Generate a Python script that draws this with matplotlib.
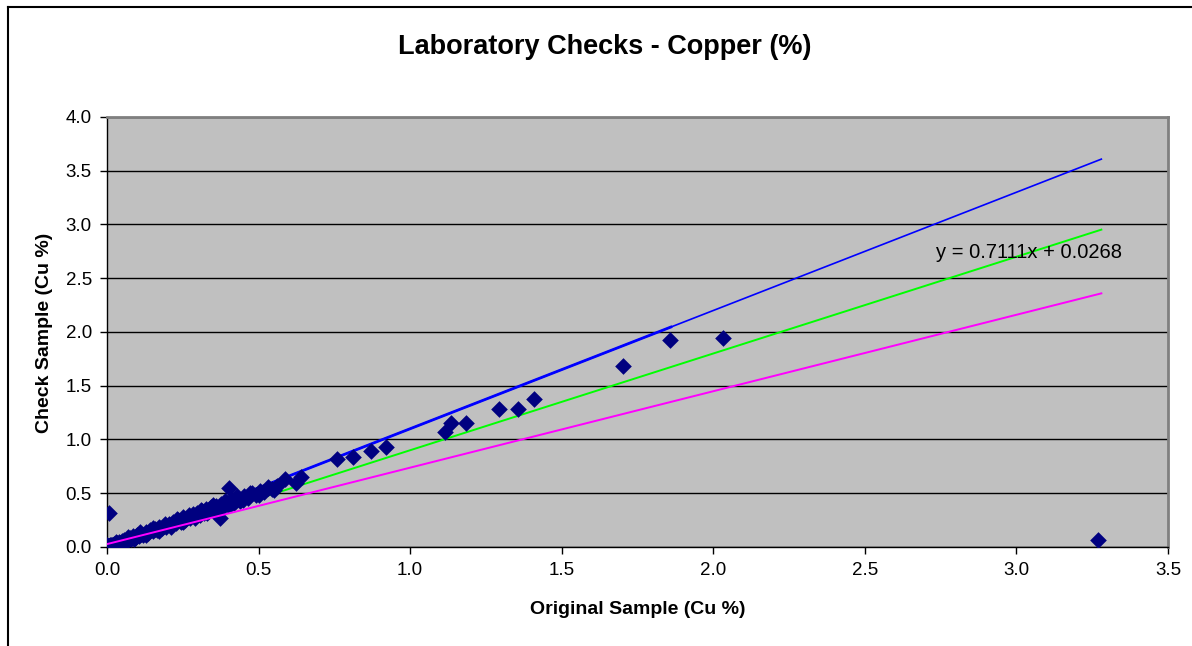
import matplotlib
matplotlib.use("Agg")
import matplotlib.pyplot as plt
from matplotlib.lines import Line2D

plt.rcParams['font.family'] = ['Liberation Sans', 'DejaVu Sans']

# Original vs check assays (Cu %)
original = [0.000, 0.002, 0.004, 0.005, 0.007, 0.008, 0.010, 0.012, 0.015, 0.018,
            0.020, 0.022, 0.025, 0.028, 0.030, 0.033, 0.036, 0.040, 0.044, 0.048,
            0.052, 0.056, 0.060, 0.065, 0.070, 0.075, 0.080, 0.086, 0.092, 0.098,
            0.105, 0.112, 0.120, 0.128, 0.135, 0.142, 0.150, 0.158, 0.165, 0.172,
            0.180, 0.188, 0.195, 0.203, 0.210, 0.218, 0.226, 0.235, 0.243, 0.250,
            0.258, 0.266, 0.275, 0.283, 0.290, 0.298, 0.305, 0.313, 0.320, 0.328,
            0.336, 0.344, 0.352, 0.360, 0.368, 0.376, 0.384, 0.392, 0.400, 0.410,
            0.420, 0.430, 0.440, 0.452, 0.465, 0.478, 0.492, 0.505, 0.518, 0.532,
            0.545, 0.560,
            0.010, 0.020, 0.030, 0.050, 0.070, 0.090, 0.110, 0.130, 0.150, 0.170,
            0.190, 0.210, 0.230, 0.250, 0.270, 0.290, 0.310, 0.330, 0.350, 0.370,
            0.390, 0.410, 0.430, 0.450, 0.470, 0.500, 0.530, 0.550, 0.005, 0.000,
            0.012,
            0.008, 0.402, 0.372, 3.27,
            0.588, 0.624, 0.639, 0.758, 0.810, 0.872, 0.920, 1.116, 1.134, 1.185,
            1.293, 1.355, 1.407, 1.703, 1.856, 2.033]
check = [0.000, 0.005, 0.002, 0.010, 0.004, 0.012, 0.008, 0.015, 0.011, 0.022,
         0.016, 0.028, 0.020, 0.032, 0.026, 0.040, 0.030, 0.046, 0.038, 0.055,
         0.045, 0.062, 0.055, 0.074, 0.064, 0.082, 0.075, 0.098, 0.088, 0.112,
         0.100, 0.122, 0.115, 0.140, 0.128, 0.155, 0.148, 0.170, 0.158, 0.185,
         0.176, 0.198, 0.190, 0.215, 0.200, 0.232, 0.222, 0.250, 0.236, 0.275,
         0.252, 0.282, 0.268, 0.305, 0.285, 0.318, 0.300, 0.330, 0.312, 0.352,
         0.330, 0.372, 0.345, 0.385, 0.362, 0.398, 0.375, 0.418, 0.392, 0.435,
         0.412, 0.452, 0.430, 0.478, 0.455, 0.500, 0.488, 0.525, 0.508, 0.548,
         0.540, 0.565,
         0.020, 0.005, 0.045, 0.035, 0.090, 0.075, 0.135, 0.115, 0.175, 0.150,
         0.215, 0.190, 0.262, 0.235, 0.300, 0.270, 0.345, 0.312, 0.388, 0.352,
         0.430, 0.400, 0.470, 0.440, 0.505, 0.485, 0.560, 0.530, 0.000, 0.015,
         0.000,
         0.313, 0.546, 0.267, 0.065,
         0.633, 0.598, 0.654, 0.822, 0.835, 0.896, 0.930, 1.070, 1.153, 1.153,
         1.284, 1.284, 1.380, 1.684, 1.923, 1.940]

# reference lines: +10%, -10% and linear trend
line_x = [0.0, 3.28]
upper_slope = 1.1
lower_slope = 0.9
trend_slope = 0.7111
trend_icpt = 0.0268
upper_dense_x = [0.0, 1.86]

fig = plt.figure(figsize=(11.92, 6.46), dpi=100)
ax = fig.add_axes([0.0898, 0.1533, 0.8901, 0.6656])
ax.set_facecolor('#C0C0C0')

ax.plot(line_x, [upper_slope * v for v in line_x], color='#0000FF', lw=1.2, zorder=3)
ax.plot(upper_dense_x, [upper_slope * v for v in upper_dense_x], color='#0000FF', lw=2.0, zorder=3)
ax.plot(line_x, [lower_slope * v for v in line_x], color='#00FF00', lw=1.4, zorder=3)
ax.scatter(original, check, marker='D', s=72, color='#000080', linewidths=0, zorder=4)
ax.plot(line_x, [trend_slope * v + trend_icpt for v in line_x], color='#FF00FF', lw=1.4, zorder=5)

ax.text(2.736, 2.744, 'y = 0.7111x + 0.0268', fontsize=14.5, va='center', ha='left', zorder=6)

ax.set_xlim(0, 3.5)
ax.set_ylim(0, 4.0)
xt = [0.0, 0.5, 1.0, 1.5, 2.0, 2.5, 3.0, 3.5]
yt = [0.0, 0.5, 1.0, 1.5, 2.0, 2.5, 3.0, 3.5, 4.0]
ax.set_xticks(xt)
ax.set_yticks(yt)
ax.set_xticklabels([f'{v:.1f}' for v in xt])
ax.set_yticklabels([f'{v:.1f}' for v in yt])
ax.tick_params(direction='out', length=5, width=1, labelsize=13.5, pad=6)
ax.yaxis.grid(True, color='black', lw=1)
ax.set_axisbelow(True)

for side in ('top', 'right'):
    ax.spines[side].set_color('#808080')
    ax.spines[side].set_linewidth(2)
for side in ('left', 'bottom'):
    ax.spines[side].set_color('black')
    ax.spines[side].set_linewidth(1)

fig.text(0.507, 0.927, 'Laboratory Checks - Copper (%)', fontsize=19.5, fontweight='bold',
         ha='center', va='center')
fig.text(0.535, 0.056, 'Original Sample (Cu %)', fontsize=14, fontweight='bold',
         ha='center', va='center')
fig.text(0.037, 0.4845, 'Check Sample (Cu %)', fontsize=14, fontweight='bold',
         ha='center', va='center', rotation=90)

# outer chart border (top and left)
fig.add_artist(Line2D([0.0067, 1.0], [0.989, 0.989], color='black', lw=1.5))
fig.add_artist(Line2D([0.0067, 0.0067], [0.0, 0.989], color='black', lw=1.5))

fig.savefig('out.png', dpi=100, facecolor='white')
